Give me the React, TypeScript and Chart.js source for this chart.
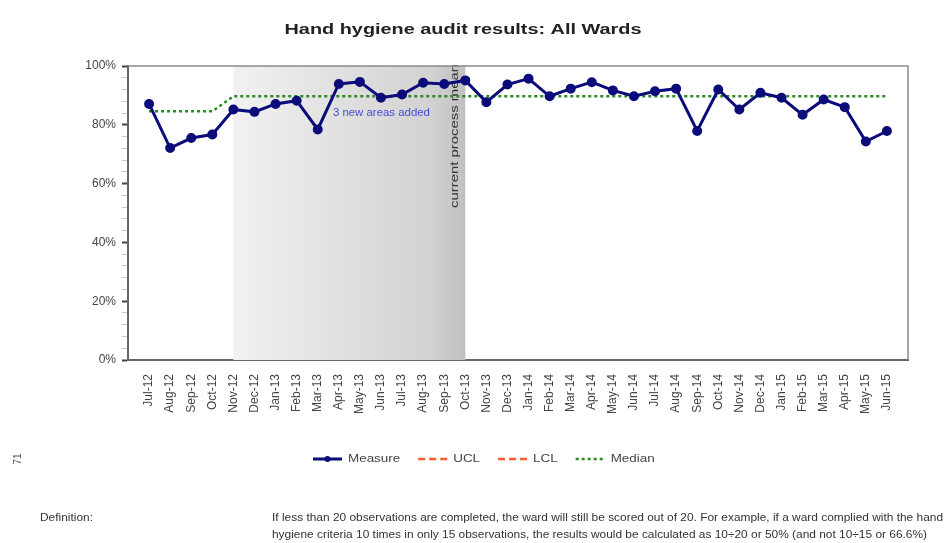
import React, { useEffect, useRef } from "react";
import { Chart, registerables } from "chart.js";

Chart.register(...registerables);

const months = [
  "Jul-12", "Aug-12", "Sep-12", "Oct-12", "Nov-12", "Dec-12", "Jan-13", "Feb-13", "Mar-13", "Apr-13", "May-13", "Jun-13",
  "Jul-13", "Aug-13", "Sep-13", "Oct-13", "Nov-13", "Dec-13", "Jan-14", "Feb-14", "Mar-14", "Apr-14", "May-14", "Jun-14",
  "Jul-14", "Aug-14", "Sep-14", "Oct-14", "Nov-14", "Dec-14", "Jan-15", "Feb-15", "Mar-15", "Apr-15", "May-15", "Jun-15",
];

const measure = [
  87.1, 72.1, 75.5, 76.7, 85.2, 84.4, 87.1, 88.2, 78.4, 93.9, 94.6, 89.2,
  90.3, 94.3, 93.9, 95.1, 87.7, 93.7, 95.7, 89.7, 92.3, 94.5, 91.7, 89.7,
  91.4, 92.3, 77.9, 92.0, 85.2, 90.9, 89.2, 83.4, 88.6, 86.0, 74.3, 77.9,
];

const median = [
  84.6, 84.6, 84.6, 84.6, 89.7, 89.7, 89.7, 89.7, 89.7, 89.7, 89.7, 89.7,
  89.7, 89.7, 89.7, 89.7, 89.7, 89.7, 89.7, 89.7, 89.7, 89.7, 89.7, 89.7,
  89.7, 89.7, 89.7, 89.7, 89.7, 89.7, 89.7, 89.7, 89.7, 89.7, 89.7, 89.7,
];

const ucl: number[] = [];
const lcl: number[] = [];

const yTicks = [0, 20, 40, 60, 80, 100];

const shadedStart = "Nov-12";
const shadedEnd = "Oct-13";
const title = "Hand hygiene audit results: All Wards";
const annotationNew = "3 new areas added";
const annotationMean = "current process mean";
const pageNumber = "71";
const definitionLabel = "Definition:";
const definitionLines = [
  "If less than 20 observations are completed, the ward will still be scored out of 20. For example, if a ward complied with the hand",
  "hygiene criteria 10 times in only 15 observations, the results would be calculated as 10÷20 or 50% (and not 10÷15 or 66.6%)",
];

const FONT = "'Liberation Sans', Arial, sans-serif";

function stretchText(
  ctx: CanvasRenderingContext2D,
  text: string,
  x: number,
  y: number,
  sx: number,
  align: CanvasTextAlign = "left"
) {
  ctx.save();
  ctx.translate(x, y);
  ctx.scale(sx, 1);
  ctx.textAlign = align;
  ctx.textBaseline = "middle";
  ctx.fillText(text, 0, 0);
  ctx.restore();
}

const decorPlugin = {
  id: "decor",
  beforeDatasetsDraw(chart: any) {
    const { ctx, chartArea } = chart;
    const xs = chart.scales.x;
    const ys = chart.scales.y;
    const x0 = xs.getPixelForValue(months.indexOf(shadedStart));
    const x1 = xs.getPixelForValue(months.indexOf(shadedEnd));
    ctx.save();
    const g = ctx.createLinearGradient(x0, 0, x1, 0);
    g.addColorStop(0, "#f1f1f1");
    g.addColorStop(0.85, "#d2d2d2");
    g.addColorStop(1, "#c0c0c0");
    ctx.fillStyle = g;
    ctx.fillRect(x0, chartArea.top, x1 - x0, chartArea.bottom - chartArea.top);

    // annotation "3 new areas added"
    ctx.fillStyle = "#4b4bd6";
    ctx.font = `10px ${FONT}`;
    const w1 = ctx.measureText(annotationNew).width;
    stretchText(ctx, annotationNew, xs.getPixelForValue(8.72), ys.getPixelForValue(84.0), 97 / w1);

    // vertical "current process mean"
    ctx.fillStyle = "#333";
    ctx.font = `10px ${FONT}`;
    const w2 = ctx.measureText(annotationMean).width;
    ctx.save();
    ctx.translate(x1 - 10, chartArea.top - 2);
    ctx.rotate(-Math.PI / 2);
    ctx.scale(144 / w2, 1);
    ctx.textAlign = "right";
    ctx.textBaseline = "middle";
    ctx.fillText(annotationMean, 0, 0);
    ctx.restore();
    ctx.restore();
  },
  afterDraw(chart: any) {
    const { ctx, chartArea } = chart;
    ctx.save();
    // frame: top and right
    ctx.strokeStyle = "#8a8a8a";
    ctx.lineWidth = 1.5;
    ctx.beginPath();
    ctx.moveTo(chartArea.left, chartArea.top);
    ctx.lineTo(chartArea.right, chartArea.top);
    ctx.lineTo(chartArea.right, chartArea.bottom);
    ctx.stroke();

    // title
    ctx.fillStyle = "#222";
    ctx.font = `bold 14px ${FONT}`;
    const tw = ctx.measureText(title).width;
    stretchText(ctx, title, 463, 30, 357 / tw, "center");

    // legend
    const ds = chart.data.datasets;
    ctx.font = `11px ${FONT}`;
    const legendY = 459;
    let lx = 313;
    const sxL = 1.22;
    ds.forEach((d: any) => {
      ctx.save();
      ctx.strokeStyle = d.borderColor;
      ctx.lineWidth = d.borderWidth;
      ctx.setLineDash(d.borderDash || []);
      ctx.beginPath();
      ctx.moveTo(lx, legendY);
      ctx.lineTo(lx + 29, legendY);
      ctx.stroke();
      ctx.setLineDash([]);
      if (d.pointRadius > 0) {
        ctx.fillStyle = d.pointBackgroundColor;
        ctx.beginPath();
        ctx.arc(lx + 14.5, legendY, 3, 0, Math.PI * 2);
        ctx.fill();
      }
      ctx.restore();
      ctx.fillStyle = "#444";
      const tx = lx + 35;
      stretchText(ctx, d.label, tx, legendY, sxL);
      lx = tx + ctx.measureText(d.label).width * sxL + 18;
    });

    // page number
    ctx.save();
    ctx.fillStyle = "#555";
    ctx.font = `10px ${FONT}`;
    ctx.translate(18, 459);
    ctx.rotate(-Math.PI / 2);
    ctx.textAlign = "center";
    ctx.textBaseline = "middle";
    ctx.fillText(pageNumber, 0, 0);
    ctx.restore();

    // definition
    ctx.fillStyle = "#333";
    ctx.font = `10px ${FONT}`;
    const dw = ctx.measureText(definitionLines[0]).width;
    const sxD = 671 / dw;
    stretchText(ctx, definitionLabel, 40, 518, sxD);
    definitionLines.forEach((line, i) => {
      stretchText(ctx, line, 272, 518 + i * 17, sxD);
    });
    ctx.restore();
  },
};

export default function App() {
  const ref = useRef<HTMLCanvasElement>(null);
  useEffect(() => {
    if (!ref.current) return;
    const chart = new Chart(ref.current, {
      type: "line",
      data: {
        datasets: [
          {
            label: "Measure",
            data: measure.map((y, i) => ({ x: i, y })),
            borderColor: "#0b0b7a",
            backgroundColor: "#0b0b7a",
            pointBackgroundColor: "#0b0b7a",
            pointBorderColor: "#0b0b7a",
            borderWidth: 3,
            pointRadius: 3.5,
            tension: 0,
            order: 0,
          },
          {
            label: "UCL",
            data: ucl.map((y, i) => ({ x: i, y })),
            borderColor: "#ff5a2a",
            borderWidth: 2.5,
            borderDash: [7, 4],
            pointRadius: 0,
          },
          {
            label: "LCL",
            data: lcl.map((y, i) => ({ x: i, y })),
            borderColor: "#ff5a2a",
            borderWidth: 2.5,
            borderDash: [7, 4],
            pointRadius: 0,
          },
          {
            label: "Median",
            data: median.map((y, i) => ({ x: i, y })),
            borderColor: "#2a8a22",
            borderWidth: 2.5,
            borderDash: [3, 3],
            pointRadius: 0,
            tension: 0,
            order: 1,
          },
        ],
      },
      options: {
        responsive: false,
        animation: false,
        events: [],
        layout: { padding: { left: 0, right: 38, top: 66, bottom: 123 } },
        plugins: { legend: { display: false }, tooltip: { enabled: false }, title: { display: false } },
        scales: {
          x: {
            type: "linear",
            min: -1,
            max: months.length,
            grid: { display: false },
            border: { display: true, color: "#666", width: 2 },
            afterFit: (s: any) => {
              s.height = 60;
            },
            afterBuildTicks: (s: any) => {
              s.ticks = months.map((_, i) => ({ value: i }));
            },
            ticks: {
              autoSkip: false,
              maxRotation: 90,
              minRotation: 90,
              padding: 6,
              color: "#444",
              font: { family: FONT, size: 12 },
              callback: (v: any) => months[v] ?? "",
            },
          },
          y: {
            min: 0,
            max: 100,
            afterFit: (s: any) => {
              s.width = 128;
            },
            afterBuildTicks: (s: any) => {
              const t = [];
              for (let v = 0; v <= 100; v += 4) t.push({ value: v });
              yTicks.forEach((v) => {
                if (!t.find((o) => o.value === v)) t.push({ value: v });
              });
              t.sort((a, b) => a.value - b.value);
              s.ticks = t;
            },
            grid: {
              drawOnChartArea: false,
              drawTicks: true,
              tickLength: 6,
              tickColor: (c: any) => (yTicks.includes(c.tick?.value) ? "#444" : "#c8c8c8"),
              tickWidth: (c: any) => (yTicks.includes(c.tick?.value) ? 2 : 1),
            },
            border: { display: true, color: "#666", width: 2 },
            ticks: {
              autoSkip: false,
              padding: 6,
              color: "#444",
              font: { family: FONT, size: 12 },
              callback: (v: any) => (yTicks.includes(v) ? `${v}%` : ""),
            },
          },
        },
      },
      plugins: [decorPlugin],
    });
    return () => chart.destroy();
  }, []);
  return (
    <div style={{ position: "absolute", left: 0, top: 0, width: 946, height: 543, background: "#fff" }}>
      <canvas ref={ref} width={946} height={543} />
    </div>
  );
}
